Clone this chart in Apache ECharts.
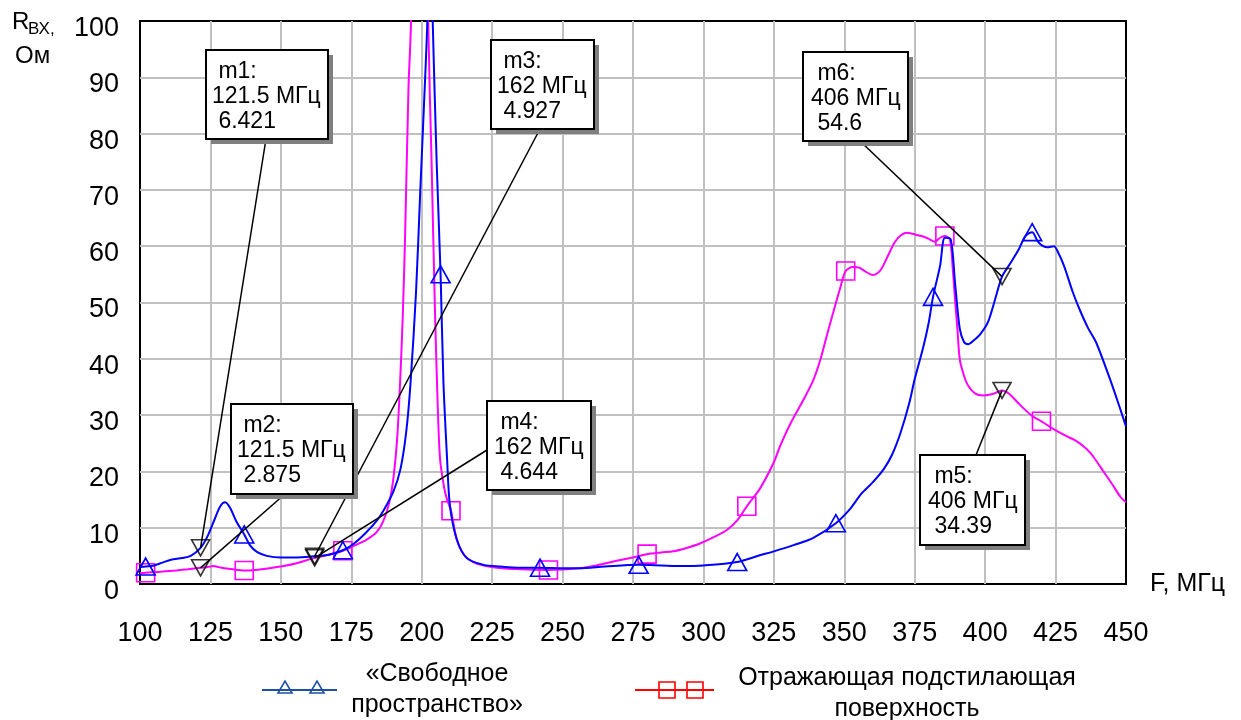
<!DOCTYPE html>
<html>
<head>
<meta charset="utf-8">
<script src="https://cdn.jsdelivr.net/npm/echarts@6/dist/echarts.min.js"></script>
<style>html,body{margin:0;padding:0;background:#fff}#c{width:1241px;height:720px}</style>
</head>
<body>
<div id="c"></div>
<script>
// ---------- DATA ----------
const seriesNames = ['«Свободное пространство»', 'Отражающая подстилающая поверхность'];
const xAxisName = 'F, МГц';
const yAxisNameMain = 'R';
const yAxisNameSub = 'ВХ,';
const yAxisUnit = 'Ом';

// «Свободное пространство» : [F MHz, R Ohm]
const freeSpace = [
  [100,3.0],[102,3.1],[105,3.3],[108,3.8],[111,4.3],[115,4.6],[118,5.0],[121.5,6.42],[124,8.5],[126.5,11.5],
  [128.5,13.8],[130.2,14.5],[132,13.5],[134.3,11.0],[137,8.8],[139,6.9],[141.5,5.7],[145,5.0],[150,4.7],[155,4.7],
  [162,4.93],[167,5.2],[172,6.0],[176,7.2],[180,9.0],[184,11.2],[186.5,13.1],[190,16.5],[192.5,20.5],[194.5,27],
  [196,35.5],[198,52],[199.5,70],[200.8,85],[202,100],[202.9,122],[203.9,100],[205.3,75],[206.7,55],[207.7,36],
  [209,22.3],[210,14],[212.4,8],[216,4.6],[222,3.4],[228,3.1],[235,2.9],[242,2.9],[250,2.8],[256,2.8],
  [265,3.1],[277,3.4],[285,3.3],[292,3.2],[300,3.3],[312,3.9],[320,5.1],[325,5.8],[332,6.9],[339,8.2],
  [347,10.8],[352,13.3],[356,16],[360,18],[364,20.4],[367,23],[370,26.9],[373,32],[375,36.4],[378,42],
  [380,46.5],[381.5,51],[384,56.5],[385.7,61.5],[387.8,61.2],[389.3,53.6],[391,45.3],[392.5,43],[394,42.6],[396,43.3],
  [398.3,44.4],[401,46.5],[403.5,50.5],[406,54.6],[409,57],[412,59.5],[414.3,61.8],[416.7,62.5],[418.5,61],[420,60.2],
  [422,59.8],[424.4,60],[426,58.8],[428,56.5],[431,52],[433.5,48.8],[436.5,45.5],[439.4,42.9],[443,38.2],[446,34],
  [450,28]
];
// Отражающая подстилающая поверхность : [F MHz, R Ohm]
const reflecting = [
  [100,1.9],[102,2.0],[105,2.1],[108,2.2],[113,2.4],[117,2.6],[121.5,2.875],[124,3.0],[126,3.2],[128,3.0],
  [130,2.8],[133,2.6],[137,2.4],[141,2.5],[146,2.8],[151,3.2],[155.6,3.7],[162,4.644],[167,5.2],[172,5.9],
  [176,6.8],[180.5,7.9],[184,9.2],[186.4,11.2],[188.5,14.5],[190,19],[191.3,26],[192.3,35.5],[193.3,48],[194.1,61.8],
  [195.3,88],[196.2,100],[197.8,170],[199.3,220],[200.8,170],[202.3,100],[203.5,75],[204.7,48.6],[205.6,33],[206.5,22.3],
  [208,17],[209,15],[210.4,13],[212.4,8],[215,5.2],[218.3,3.9],[222,3.3],[226.6,2.9],[235,2.6],[245,2.5],
  [256,2.8],[262,3.3],[268,4.0],[274,4.6],[280,5.3],[285,5.6],[289.3,5.8],[294,6.4],[298.8,7.2],[304,8.4],
  [308.3,9.6],[312,11.3],[315.4,13.8],[320,16.9],[324.8,21.4],[327.3,24.6],[331,28.6],[335.6,32.8],[339,36.2],[341.6,40],
  [344,44.5],[346.4,48.8],[348.5,52.5],[350.5,55.6],[353,56.3],[355.3,56.2],[357.5,55.5],[360.1,54.9],[361.5,55.1],[363.1,55.9],
  [365.5,58.3],[367.9,60.7],[370,61.9],[372,62.4],[375,62.1],[377.4,61.8],[380,61.3],[382.2,60.8],[384,61.5],[385.7,61.8],
  [387.5,61.2],[388.5,56],[389.3,50.6],[390.2,45],[391,39.9],[392.5,37],[394,35.2],[396.5,33.8],[399.4,33.5],[403,33.8],
  [406,34.39],[408.5,33.8],[412,32],[416.8,29.8],[420,28.9],[424,27.6],[428.7,26.3],[432,25.5],[435.3,24.3],[437.5,23.2],
  [439.4,21.9],[442,20],[445.4,17.5],[448,15.5],[450,14.5]
];
// frequencies at which the trace symbols are drawn
const freeSymbolF = [102,137,172,206.7,242,277,312,347,381.5,416.7];
const reflSymbolF = [102,137,172,210.4,245,280,315.4,350.5,385.7,420];

// markers
const markerNames = ['m1','m2','m3','m4','m5','m6'];
const markerFreq  = [121.5,121.5,162,162,406,406];
const markerVal   = [6.421,2.875,4.927,4.644,34.39,54.6];
const markerUnit  = 'МГц';

// ---------- LAYOUT ----------
const FONT = "'Liberation Sans', Arial, sans-serif";
const markerBoxes = [
  {x:206, y:50,  w:122, h:89, dx:6, lx:266, ly:139},
  {x:231, y:404, w:122, h:90, dx:6, lx:285, ly:494},
  {x:491, y:40,  w:103, h:89, dx:6, lx:540, ly:129},
  {x:487, y:401, w:104, h:89, dx:7, lx:487, ly:450},
  {x:920, y:455, w:105, h:90, dx:8, lx:976, ly:455},
  {x:803, y:52,  w:105, h:89, dx:8, lx:860, ly:141}
];

function traceData(pairs, symF, sym, size) {
  return pairs.map(p => symF.indexOf(p[0]) >= 0
    ? {value: p, symbol: sym, symbolSize: size}
    : {value: p, symbol: 'none'});
}

const chart = echarts.init(document.getElementById('c'));
const option = {
  animation: false,
  backgroundColor: '#fff',
  grid: {left: 140, right: 115, top: 21, bottom: 136, show: true,
         borderColor: '#000', borderWidth: 2, backgroundColor: '#fff'},
  xAxis: {
    type: 'value', min: 100, max: 450, interval: 25,
    axisLine: {show: false}, axisTick: {show: false},
    splitLine: {show: true, showMinLine: false, showMaxLine: false, lineStyle: {color: '#c0c0c0', width: 2}},
    axisLabel: {fontSize: 27, color: '#000', fontFamily: FONT, margin: 36},
    name: xAxisName, nameLocation: 'end', nameGap: 24,
    nameTextStyle: {fontSize: 25, color: '#000', fontFamily: FONT, align: 'left', verticalAlign: 'middle', padding: [0,0,34,0]}
  },
  yAxis: {
    type: 'value', min: 0, max: 100, interval: 10,
    axisLine: {show: false}, axisTick: {show: false},
    splitLine: {show: true, showMinLine: false, showMaxLine: false, lineStyle: {color: '#c0c0c0', width: 2}},
    axisLabel: {fontSize: 27, color: '#000', fontFamily: FONT, margin: 21, verticalAlign: 'top', lineHeight: 15}
  },
  series: [
    {
      name: seriesNames[0], type: 'line', smooth: 0.3,
      data: traceData(freeSpace, freeSymbolF, 'triangle', [19,17]),
      showAllSymbol: true, symbol: 'none',
      lineStyle: {color: '#0000ff', width: 2},
      itemStyle: {color: 'rgba(0,0,0,0)', borderColor: '#0000ff', borderWidth: 1.6},
      emphasis: {disabled: true}, z: 3
    },
    {
      name: seriesNames[1], type: 'line', smooth: 0.3,
      data: traceData(reflecting, reflSymbolF, 'rect', 18),
      showAllSymbol: true, symbol: 'none',
      lineStyle: {color: '#ff00ff', width: 2},
      itemStyle: {color: 'rgba(0,0,0,0)', borderColor: '#ff00ff', borderWidth: 1.6},
      emphasis: {disabled: true}, z: 2
    },
    {
      name: 'markers', type: 'scatter',
      data: markerFreq.map((f, i) => [f, markerVal[i]]),
      symbol: 'triangle', symbolRotate: 180, symbolSize: [18,16],
      itemStyle: {color: 'rgba(0,0,0,0)', borderColor: '#000', borderWidth: 1.6},
      emphasis: {disabled: true}, z: 5
    }
  ]
};
chart.setOption(option);

// ---------- ANNOTATIONS ----------
const g = [];
markerNames.forEach((nm, i) => {
  const b = markerBoxes[i];
  const p = chart.convertToPixel({gridIndex: 0}, [markerFreq[i], markerVal[i]]);
  g.push({type: 'line', z: 50, shape: {x1: b.lx, y1: b.ly, x2: p[0], y2: p[1]},
          style: {stroke: '#000', lineWidth: 1.5}});
  g.push({type: 'rect', z: 60, shape: {x: b.x + 5, y: b.y + 5, width: b.w, height: b.h},
          style: {fill: '#808080'}});
  g.push({type: 'rect', z: 61, shape: {x: b.x, y: b.y, width: b.w, height: b.h},
          style: {fill: '#fff', stroke: '#000', lineWidth: 2}});
  g.push({type: 'text', z: 62, x: b.x + b.dx, y: b.y + 9,
          style: {text: ' ' + nm + ':\n' + markerFreq[i] + ' ' + markerUnit + '\n ' + markerVal[i],
                  fontSize: 23, fontFamily: FONT, fill: '#000', lineHeight: 25, verticalAlign: 'top', align: 'left'}});
});

// axis title (y)
g.push({type: 'text', z: 70, x: 12, y: 22, style: {text: yAxisNameMain, fontSize: 24, fontFamily: FONT, fill: '#000', verticalAlign: 'middle'}});
g.push({type: 'text', z: 70, x: 28, y: 29, style: {text: yAxisNameSub, fontSize: 17, fontFamily: FONT, fill: '#000', verticalAlign: 'middle'}});
g.push({type: 'text', z: 70, x: 15, y: 56, style: {text: yAxisUnit, fontSize: 24, fontFamily: FONT, fill: '#000', verticalAlign: 'middle'}});

// legend
const legY = 690;
g.push({type: 'line', z: 70, shape: {x1: 262, y1: legY, x2: 337, y2: legY}, style: {stroke: '#2050a0', lineWidth: 2}});
[285, 317].forEach(cx => g.push({type: 'polygon', z: 71, shape: {points: [[cx-7, legY+3], [cx+7, legY+3], [cx, legY-9]]},
  style: {fill: 'rgba(0,0,0,0)', stroke: '#2050a0', lineWidth: 1.6}}));
g.push({type: 'text', z: 70, x: 437, y: 690, style: {text: '«Свободное\nпространство»', fontSize: 25, fontFamily: FONT,
  fill: '#000', align: 'center', verticalAlign: 'middle', lineHeight: 31}});
g.push({type: 'line', z: 70, shape: {x1: 635, y1: legY, x2: 714, y2: legY}, style: {stroke: '#ff0000', lineWidth: 2}});
[667, 695].forEach(cx => g.push({type: 'rect', z: 71, shape: {x: cx-8, y: legY-8, width: 16, height: 16},
  style: {fill: 'rgba(0,0,0,0)', stroke: '#ff0000', lineWidth: 1.6}}));
g.push({type: 'text', z: 70, x: 907, y: 694, style: {text: 'Отражающая подстилающая\nповерхность', fontSize: 25, fontFamily: FONT,
  fill: '#000', align: 'center', verticalAlign: 'middle', lineHeight: 31}});

chart.setOption({graphic: g});
</script>
</body>
</html>
